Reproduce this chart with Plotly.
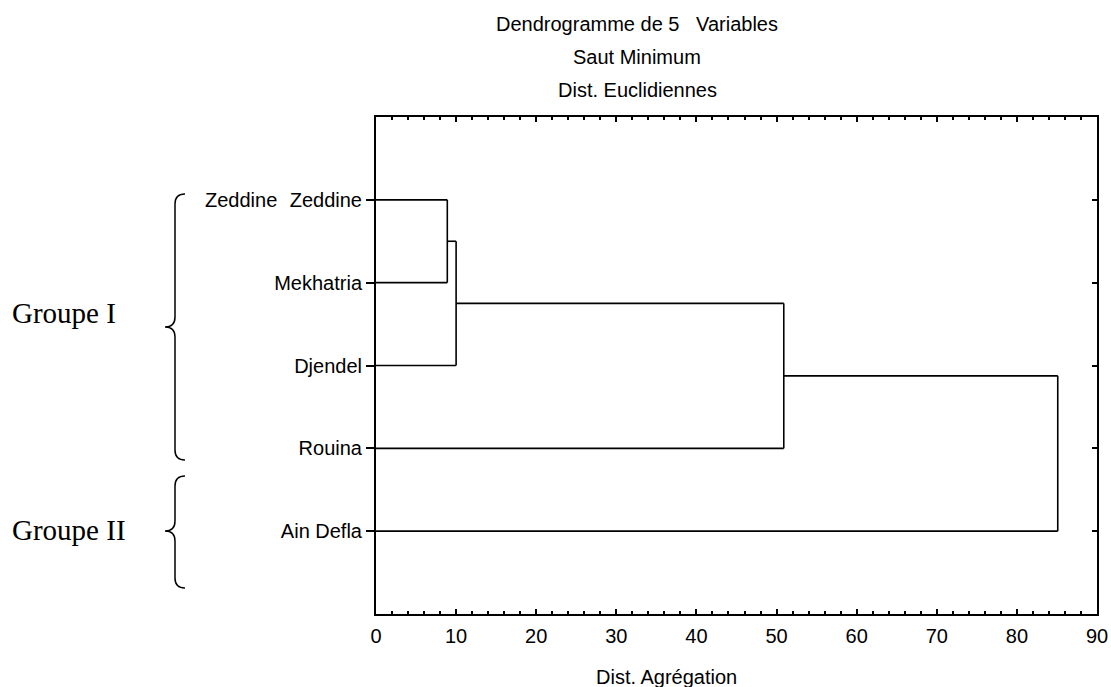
import plotly.graph_objects as go

# ---- data ----
leaves = ["Zeddine", "Mekhatria", "Djendel", "Rouina", "Ain Defla"]   # top to bottom
# merges: (left member, right member, linkage distance)
merges = [
    ("Zeddine", "Mekhatria", 8.9),
    ("C1", "Djendel", 10.0),
    ("C2", "Rouina", 50.9),
    ("C3", "Ain Defla", 85.1),
]
x_ticks = [0, 10, 20, 30, 40, 50, 60, 70, 80, 90]
title_lines = ["Dendrogramme de 5   Variables", "Saut Minimum", "Dist. Euclidiennes"]
x_title = "Dist. Agrégation"
groups = ["Groupe I", "Groupe II"]

# ---- geometry of the figure ----
W, H = 1111, 687
L, R, T, B = 376, 1097, 117, 614

def px(xp):
    return (xp - L) / (R - L)

def py(yp):
    return (B - yp) / (B - T)

n = len(leaves)
ypos = {name: n - i for i, name in enumerate(leaves)}
xpos = {name: 0.0 for name in leaves}

fig = go.Figure()
line = dict(color="black", width=1.6)
for k, (a, b, h) in enumerate(merges, start=1):
    xs, ys = [], []
    for m in (a, b):
        xs += [xpos[m], h, None]
        ys += [ypos[m], ypos[m], None]
    xs += [h, h]
    ys += [ypos[a], ypos[b]]
    fig.add_trace(go.Scatter(x=xs, y=ys, mode="lines", line=line,
                             hoverinfo="skip", showlegend=False))
    name = "C%d" % k
    xpos[name] = h
    ypos[name] = (ypos[a] + ypos[b]) / 2

# invisible trace for the right-hand axis
fig.add_trace(go.Scatter(x=[0] * n, y=[ypos[l] for l in leaves], yaxis="y2",
                         mode="markers", marker=dict(opacity=0),
                         hoverinfo="skip", showlegend=False))

font_sans = "Liberation Sans, Arial, sans-serif"
font_serif = "Liberation Serif, Times New Roman, serif"
FS = 20

fig.update_layout(
    width=W, height=H,
    margin=dict(l=L, r=W - R, t=T, b=H - B, pad=0, autoexpand=False),
    plot_bgcolor="white", paper_bgcolor="white",
    font=dict(family=font_sans, size=FS, color="black"),
    xaxis=dict(range=[0, 90], tickvals=x_ticks, ticks="inside", ticklen=5,
               tickwidth=1.5, tickcolor="black",
               minor=dict(dtick=2, ticks="inside", ticklen=3, tickwidth=1.5,
                          tickcolor="black"),
               showline=True, linecolor="black", linewidth=2, mirror="ticks",
               showgrid=False, zeroline=False, automargin=False,
               tickfont=dict(size=FS), ticklabelstandoff=3),
    yaxis=dict(range=[0, n + 1], tickvals=[ypos[l] for l in leaves],
               ticktext=leaves, ticks="outside", ticklen=8, tickwidth=1.5,
               tickcolor="black", showline=True, linecolor="black", linewidth=2,
               mirror=True, showgrid=False, zeroline=False, automargin=False,
               tickfont=dict(size=FS)),
    yaxis2=dict(range=[0, n + 1], overlaying="y", side="right", anchor="x",
                tickvals=[ypos[l] for l in leaves], ticks="inside", ticklen=5,
                tickwidth=1.5, tickcolor="black", showticklabels=False,
                showline=False, showgrid=False, zeroline=False, automargin=False),
)

ann = []
for i, t in enumerate(title_lines):
    ann.append(dict(text=t, xref="paper", yref="paper", x=px(637),
                    y=py(24 + 33 * i), showarrow=False,
                    font=dict(family=font_sans, size=FS),
                    xanchor="center", yanchor="middle"))
ann.append(dict(text=x_title, xref="paper", yref="paper", x=px(666), y=py(677),
                showarrow=False, font=dict(family=font_sans, size=FS),
                xanchor="center", yanchor="middle"))
# extra "Zeddine" label
ann.append(dict(text=leaves[0], xref="paper", yref="y", x=px(279), y=ypos[leaves[0]],
                showarrow=False, font=dict(family=font_sans, size=FS),
                xanchor="right", yanchor="middle"))
# group labels
ann.append(dict(text=groups[0], xref="paper", yref="paper", x=px(10), y=py(313),
                showarrow=False, font=dict(family=font_serif, size=29),
                xanchor="left", yanchor="middle"))
ann.append(dict(text=groups[1], xref="paper", yref="paper", x=px(10), y=py(530),
                showarrow=False, font=dict(family=font_serif, size=29),
                xanchor="left", yanchor="middle"))
fig.update_layout(annotations=ann)

def brace(yt, ym, yb, xt=185, xv=175, xp=165, r=10):
    pts = lambda x, y: "%f,%f" % (px(x), py(y))
    return ("M " + pts(xt, yt) +
            " Q " + pts(xv, yt) + " " + pts(xv, yt + r) +
            " L " + pts(xv, ym - r) +
            " Q " + pts(xv, ym) + " " + pts(xp, ym) +
            " Q " + pts(xv, ym) + " " + pts(xv, ym + r) +
            " L " + pts(xv, yb - r) +
            " Q " + pts(xv, yb) + " " + pts(xt, yb))

for (yt, ym, yb) in [(194, 327, 460), (476, 531, 588)]:
    fig.add_shape(type="path", xref="paper", yref="paper", path=brace(yt, ym, yb),
                  line=dict(color="black", width=1.5))

fig.write_html("out.html")
